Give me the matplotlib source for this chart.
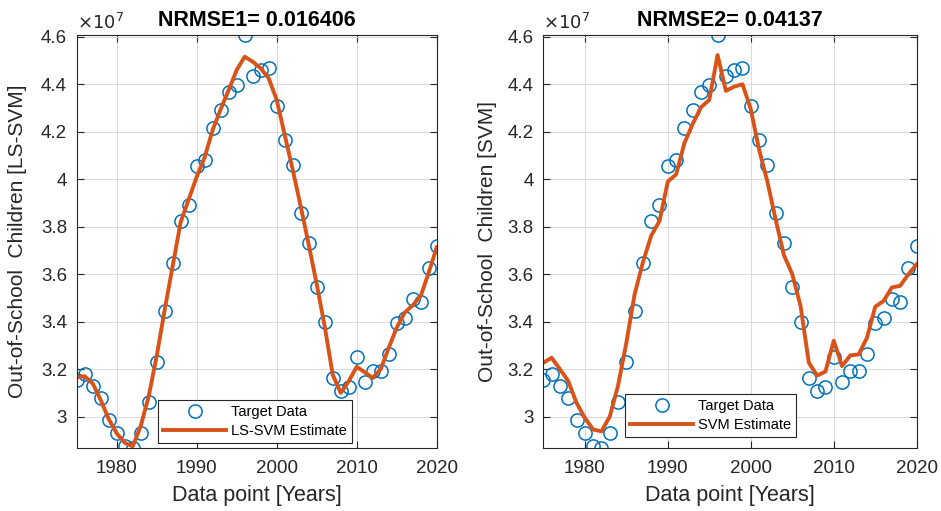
import numpy as np
import matplotlib
matplotlib.use("Agg")
import matplotlib.pyplot as plt
from matplotlib.ticker import FuncFormatter, MultipleLocator

plt.rcParams['font.family'] = ['Liberation Sans', 'DejaVu Sans']

# data (values in units of 1e7)
years = list(range(1975, 2021))

target = [3.154, 3.180, 3.128, 3.079, 2.987, 2.931, 2.877, 2.868, 2.931, 3.061,
          3.232, 3.445, 3.649, 3.824, 3.891, 4.057, 4.080, 4.214, 4.290, 4.369,
          4.397, 4.607, 4.435, 4.460, 4.470, 4.309, 4.166, 4.060, 3.859, 3.730,
          3.546, 3.400, 3.162, 3.107, 3.124, 3.252, 3.145, 3.192, 3.192, 3.262,
          3.393, 3.414, 3.494, 3.483, 3.628, 3.717]

lssvm = [3.166, 3.170, 3.140, 3.070, 2.990, 2.930, 2.890, 2.875, 2.960, 3.086,
         3.255, 3.450, 3.635, 3.820, 3.915, 4.010, 4.093, 4.208, 4.295, 4.376,
         4.460, 4.516, 4.495, 4.467, 4.425, 4.334, 4.187, 4.040, 3.886, 3.725,
         3.558, 3.380, 3.177, 3.100, 3.149, 3.210, 3.187, 3.163, 3.200, 3.290,
         3.375, 3.438, 3.469, 3.508, 3.607, 3.713]

svm = [3.227, 3.248, 3.200, 3.150, 3.058, 2.995, 2.946, 2.938, 3.000, 3.130,
       3.310, 3.515, 3.650, 3.762, 3.824, 3.990, 4.020, 4.152, 4.233, 4.303,
       4.334, 4.523, 4.372, 4.390, 4.400, 4.295, 4.125, 3.990, 3.830, 3.680,
       3.600, 3.466, 3.227, 3.173, 3.190, 3.320, 3.213, 3.258, 3.262, 3.332,
       3.463, 3.487, 3.544, 3.551, 3.600, 3.642]

titles = ["NRMSE1= 0.016406", "NRMSE2= 0.04137"]
ylabels = ["Out-of-School  Children [LS-SVM]", "Out-of-School  Children [SVM]"]
est_labels = ["LS-SVM Estimate", "SVM Estimate"]

SCALE = 1e7
BLUE = "#0072BD"
ORANGE = "#D95319"
TXT = '#262626'

fig = plt.figure(figsize=(9.41, 5.11), dpi=100)
axes_pos = [[0.0815, 0.1233, 0.3826, 0.808], [0.5774, 0.1233, 0.3968, 0.808]]
leg_anchor = [(0.226, 0.012), (0.219, 0.027)]
ylab_x = [-0.138, -0.124]

t = np.array(target) * SCALE
for i, est in enumerate([lssvm, svm]):
    ax = fig.add_axes(axes_pos[i])
    ax.plot(years, t, 'o', mfc='none', mec=BLUE, ms=9.5, mew=1.1, label="Target Data")
    ax.plot(years, np.array(est) * SCALE, '-', color=ORANGE, lw=2.8, label=est_labels[i])
    ax.set_xlim(1975, 2020)
    ax.set_ylim(t.min(), t.max())
    ax.xaxis.set_major_locator(MultipleLocator(10))
    ax.yaxis.set_major_locator(MultipleLocator(0.2 * SCALE))
    ax.yaxis.set_major_formatter(FuncFormatter(lambda v, p: f"{v / SCALE:g}"))
    ax.grid(True, color='#dcdcdc', lw=0.8)
    ax.set_axisbelow(True)
    ax.tick_params(direction='in', top=True, right=True, labelsize=13.5,
                   colors=TXT, length=5)
    ax.tick_params(axis='x', pad=9)
    ax.tick_params(axis='y', pad=7)
    for s in ax.spines.values():
        s.set_color(TXT)
        s.set_linewidth(0.8)
    ax.set_title(titles[i], fontsize=15.5, fontweight='bold', pad=6.5)
    ax.set_ylabel(ylabels[i], fontsize=15, color=TXT)
    ax.yaxis.set_label_coords(ylab_x[i], 0.5)
    ax.set_xlabel("Data point [Years]", fontsize=15.5, color=TXT)
    ax.xaxis.set_label_coords(0.5, -0.09)
    ax.text(0.0, 1.006, r"$\times10^{7}$", transform=ax.transAxes, fontsize=13,
            color=TXT, ha='left', va='bottom')
    leg = ax.legend(loc='lower left', bbox_to_anchor=leg_anchor[i], borderaxespad=0,
                    fontsize=10.5, fancybox=False, edgecolor=TXT, framealpha=1,
                    handlelength=4.3, handletextpad=0.35, borderpad=0.35,
                    labelspacing=0.35)
    leg.get_frame().set_linewidth(0.8)

fig.savefig("out.png", dpi=100)
